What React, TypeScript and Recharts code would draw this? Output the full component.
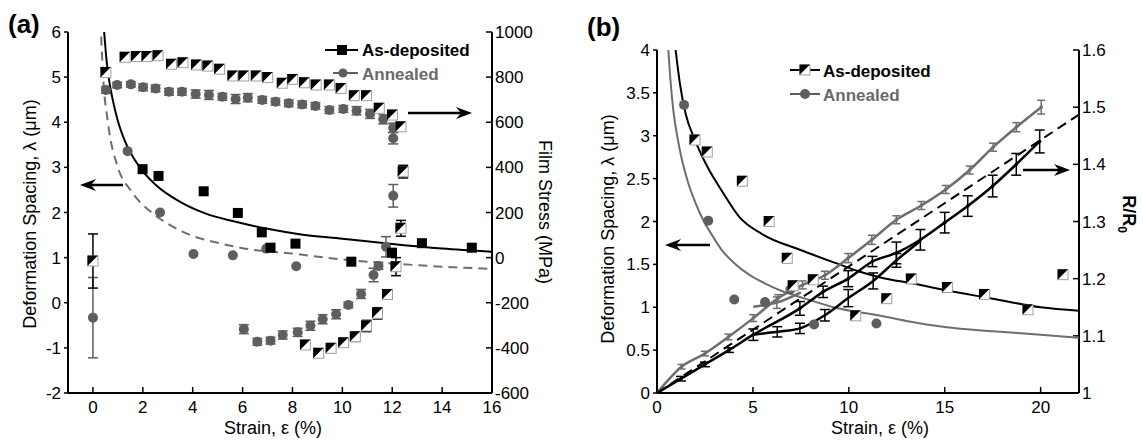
import React from 'react';
import { ComposedChart, Scatter, XAxis, YAxis, ErrorBar } from 'recharts';

const FONT = '"Liberation Sans", Arial, Helvetica, sans-serif';
const GRAY = '#5e5e5e';
const LIGHT = '#6e6e6e';

// ---- panel (a): strain vs deformation spacing (left) and film stress (right)
const aStrainTicks = [0, 2, 4, 6, 8, 10, 12, 14, 16];
const aSpacingTicks = [-2, -1, 0, 1, 2, 3, 4, 5, 6];
const aStressTicks = [-600, -400, -200, 0, 200, 400, 600, 800, 1000];

const aDepSpacing = [
  [1.99, 2.96], [2.63, 2.81], [4.44, 2.47], [5.81, 1.99], [6.77, 1.56], [7.12, 1.22],
  [8.12, 1.31], [10.36, 0.91], [11.99, 1.11], [13.19, 1.32], [15.19, 1.22],
];
const aAnnSpacing = [
  [1.39, 3.36], [2.69, 2.0], [4.03, 1.08], [5.61, 1.05], [6.95, 1.2], [8.15, 0.81],
];
const aDepFit = [
  [0.45, 6.0], [0.55, 5.35], [0.63, 5.0], [0.8, 4.48], [1.0, 4.03], [1.3, 3.56], [1.88, 3.0],
  [2.5, 2.62], [3.48, 2.24], [4.5, 1.98], [5.6, 1.81], [7.0, 1.64], [8.28, 1.52], [10, 1.42],
  [12, 1.3], [14, 1.2], [16, 1.13],
];
const aAnnFit = [
  [0.33, 5.9], [0.41, 5.0], [0.6, 4.0], [1.0, 3.0], [1.5, 2.5], [2.35, 2.0], [3.0, 1.75],
  [4.0, 1.48], [5.0, 1.33], [6.0, 1.21], [8.0, 1.09], [10, 0.96], [12, 0.87], [14, 0.8], [16, 0.75],
];
// [strain, stress, error]
const aDepStress = [
  [0, -15, 120], [0.52, 820, 8], [1.29, 888, 8], [1.75, 891, 8], [2.17, 891, 8], [2.61, 895, 8],
  [3.15, 857, 8], [3.61, 864, 8], [4.15, 854, 8], [4.61, 849, 8], [5.08, 835, 8], [5.61, 805, 8],
  [6.05, 805, 8], [6.55, 805, 8], [7.01, 798, 8], [7.59, 773, 8], [8.01, 790, 8], [8.48, 775, 8],
  [8.95, 765, 8], [9.48, 765, 8], [9.95, 750, 8], [10.48, 718, 8], [10.97, 718, 8], [11.48, 662, 10],
  [12.01, 632, 10], [12.35, 580, 12], [12.44, 381, 28], [12.35, 130, 35], [12.15, -40, 40],
  [11.81, -163, 20], [11.41, -247, 25], [10.97, -303, 25], [10.52, -351, 20], [10.05, -377, 15],
  [9.55, -402, 18], [9.05, -424, 15], [8.52, -387, 15],
];
const aAnnStress = [
  [0, -266, 178], [0.52, 743, 15], [0.97, 765, 12], [1.52, 768, 12], [2.01, 755, 15], [2.51, 750, 15],
  [3.05, 735, 15], [3.57, 735, 15], [4.12, 725, 18], [4.65, 721, 20], [5.19, 713, 15], [5.72, 703, 20],
  [6.21, 709, 18], [6.79, 699, 15], [7.32, 691, 15], [7.85, 684, 15], [8.39, 679, 15], [8.92, 672, 15],
  [9.48, 654, 15], [10.04, 659, 15], [10.57, 651, 18], [11.11, 637, 20], [11.64, 613, 20],
  [12.04, 576, 20], [12.04, 529, 25], [12.04, 274, 50], [11.75, 48, 45], [11.45, -37, 15],
  [11.25, -77, 30], [10.75, -161, 20], [10.24, -210, 12], [9.75, -251, 20], [9.21, -273, 20],
  [8.72, -302, 20], [8.21, -331, 18], [7.61, -343, 18], [7.12, -368, 15], [6.59, -373, 15],
  [6.05, -317, 20],
];

// ---- panel (b): strain vs deformation spacing (left) and R/R0 (right)
const bStrainTicks = [0, 5, 10, 15, 20];
const bSpacingTicks = [0, 0.5, 1, 1.5, 2, 2.5, 3, 3.5, 4];
const bRatioTicks = [1, 1.1, 1.2, 1.3, 1.4, 1.5, 1.6];

const bDepSpacing = [
  [1.98, 2.95], [2.62, 2.81], [4.45, 2.47], [5.85, 2.0], [6.79, 1.57], [7.1, 1.25], [8.15, 1.32],
  [10.36, 0.9], [11.98, 1.1], [13.26, 1.33], [15.14, 1.23], [17.07, 1.15], [19.34, 0.97], [21.17, 1.38],
];
const bAnnSpacing = [
  [1.41, 3.36], [2.67, 2.01], [4.03, 1.09], [5.63, 1.06], [6.96, 1.21], [8.19, 0.8], [11.44, 0.81],
  [15.14, 1.23],
];
const bDepFit = [
  [0.97, 4.0], [1.2, 3.6], [1.5, 3.25], [1.98, 2.95], [2.6, 2.65], [3.4, 2.35], [4.3, 2.05],
  [5.5, 1.85], [7.45, 1.67], [9.5, 1.5], [10.5, 1.42], [11.6, 1.35], [13.5, 1.27], [15, 1.2],
  [17.5, 1.1], [20, 1.0], [22, 0.96],
];
const bAnnFit = [
  [0.59, 4.0], [0.7, 3.65], [0.85, 3.3], [1.05, 3.0], [1.3, 2.72], [1.6, 2.47], [2.0, 2.22],
  [2.4, 2.02], [2.9, 1.83], [3.4, 1.66], [4.0, 1.52], [4.8, 1.38], [5.7, 1.27], [6.5, 1.19],
  [7.45, 1.12], [8.3, 1.06], [9.2, 1.0], [10.3, 0.95], [11.44, 0.91], [13, 0.84], [15, 0.77],
  [17.5, 0.72], [20, 0.68], [22, 0.645],
];
// [strain, R/R0, error]
const bAnnRatio = [
  [0, 1, 0], [1.28, 1.046, 0.004], [2.5, 1.069, 0.004], [3.72, 1.098, 0.005], [5.02, 1.131, 0.006],
  [6.32, 1.166, 0.006], [7.59, 1.189, 0.007], [8.75, 1.206, 0.007], [9.97, 1.236, 0.008],
  [11.2, 1.268, 0.008], [12.48, 1.303, 0.007], [13.78, 1.328, 0.007], [15.05, 1.356, 0.007],
  [16.3, 1.39, 0.007], [17.52, 1.43, 0.007], [18.73, 1.465, 0.008], [20.03, 1.5, 0.012],
];
const bAnnRatioShort = [[5.02, 1.151, 0], [6.25, 1.158, 0.01], [7.5, 1.176, 0]];
const bDepRatio = [
  [0, 1, 0], [1.25, 1.025, 0.004], [2.5, 1.05, 0.004], [3.75, 1.075, 0.004], [5.02, 1.102, 0.01],
  [7.45, 1.148, 0.012], [8.66, 1.177, 0.01], [9.97, 1.2, 0.014], [11.23, 1.23, 0.009],
  [12.48, 1.245, 0.019], [13.73, 1.268, 0.018], [15, 1.298, 0.018], [16.2, 1.327, 0.018],
  [17.5, 1.362, 0.019], [18.73, 1.4, 0.019], [19.95, 1.44, 0.02],
];
const bDepRatioLow = [
  [5.02, 1.102, 0], [6.27, 1.107, 0.009], [7.45, 1.113, 0.009], [8.75, 1.136, 0.01],
  [9.97, 1.166, 0.015], [11.27, 1.196, 0.014], [12.48, 1.232, 0.012], [13.73, 1.266, 0],
];
const bRatioGuide = [[0, 1], [22, 1.487]];

const toPts = (rows: number[][]) => rows.map(([x, y, e = 0]) => ({ x, y, e }));

const axisLn = { stroke: '#000', strokeWidth: 2 };
const tickLn = { stroke: '#000', strokeWidth: 1.5 };
const tickTxt = { fill: '#000', fontSize: 17, fontFamily: FONT };

const noDot = () => <g />;
const BlackSquare = (p: any) =>
  p.cx == null ? <g /> : <rect x={p.cx - 5} y={p.cy - 5} width={10} height={10} fill="#000" />;
const GrayDot = (p: any) => (p.cx == null ? <g /> : <circle cx={p.cx} cy={p.cy} r={5} fill={GRAY} />);
const TinyDot = (color: string) => (p: any) =>
  p.cx == null ? <g /> : <circle cx={p.cx} cy={p.cy} r={1.8} fill={color} />;
const HalfSquare = (p: any) => {
  if (p.cx == null) return <g />;
  const { cx, cy } = p;
  return (
    <g>
      <rect x={cx - 5} y={cy - 5} width={10} height={10} fill="#fff" stroke="#a0a0a0" strokeWidth={1} />
      <path d={`M${cx - 5.5},${cy - 5.5}H${cx + 5}L${cx - 5.5},${cy + 5}Z`} fill="#000" />
    </g>
  );
};

const Arrow = ({ x1, x2, y }: { x1: number; x2: number; y: number }) => {
  const d = x2 > x1 ? 1 : -1;
  return (
    <g>
      <line x1={x1} y1={y} x2={x2 - d * 8} y2={y} stroke="#000" strokeWidth={2.5} />
      <path d={`M${x2},${y}L${x2 - d * 16},${y - 6}L${x2 - d * 11},${y}L${x2 - d * 16},${y + 6}Z`} fill="#000" />
    </g>
  );
};

function PanelA() {
  return (
    <ComposedChart width={580} height={442} margin={{ top: 32, right: 28, bottom: 19, left: 23 }}>
      <XAxis xAxisId="b" type="number" dataKey="x" domain={[-1, 16]} ticks={aStrainTicks} interval={0}
        allowDataOverflow height={30} tickSize={-6} tickMargin={14} axisLine={axisLn} tickLine={tickLn} tick={tickTxt} />
      <XAxis xAxisId="t" orientation="top" type="number" dataKey="x" domain={[-1, 16]} ticks={aStrainTicks}
        interval={0} allowDataOverflow height={0} tickSize={-6} tick={false} axisLine={axisLn} tickLine={tickLn} />
      <YAxis yAxisId="l" type="number" dataKey="y" domain={[-2, 6]} ticks={aSpacingTicks} interval={0}
        allowDataOverflow width={45} tickSize={4} tickMargin={3} axisLine={axisLn} tickLine={tickLn} tick={tickTxt} />
      <YAxis yAxisId="r" orientation="right" type="number" dataKey="y" domain={[-600, 1000]} ticks={aStressTicks}
        interval={0} allowDataOverflow width={60} tickSize={-6} tickMargin={9} axisLine={axisLn} tickLine={tickLn} tick={tickTxt} />

      <Scatter xAxisId="b" yAxisId="l" data={toPts(aAnnFit)} line={{ stroke: LIGHT, strokeWidth: 2, strokeDasharray: '9 6' }}
        lineJointType="monotone" shape={noDot} isAnimationActive={false} legendType="none" />
      <Scatter xAxisId="b" yAxisId="l" data={toPts(aDepFit)} line={{ stroke: '#000', strokeWidth: 2 }}
        lineJointType="monotone" shape={noDot} isAnimationActive={false} legendType="none" />

      <Scatter xAxisId="b" yAxisId="r" data={toPts(aAnnStress)} shape={GrayDot} isAnimationActive={false}>
        <ErrorBar dataKey="e" direction="y" width={5} stroke={GRAY} strokeWidth={1.5} />
      </Scatter>
      <Scatter xAxisId="b" yAxisId="r" data={toPts(aDepStress)} shape={HalfSquare} isAnimationActive={false}>
        <ErrorBar dataKey="e" direction="y" width={5} stroke="#000" strokeWidth={1.5} />
      </Scatter>

      <Scatter xAxisId="b" yAxisId="l" data={toPts(aAnnSpacing)} shape={GrayDot} isAnimationActive={false} />
      <Scatter xAxisId="b" yAxisId="l" data={toPts(aDepSpacing)} shape={BlackSquare} isAnimationActive={false} />

      <text x={8} y={33} fontFamily={FONT} fontSize={26} fontWeight="bold">(a)</text>
      <text transform="translate(30,214) rotate(-90)" textAnchor="middle" dy="0.35em" fontFamily={FONT} fontSize={18}>
        Deformation Spacing, λ (μm)
      </text>
      <text transform="translate(545,212) rotate(90)" textAnchor="middle" dy="0.35em" fontFamily={FONT} fontSize={18}>
        Film Stress (MPa)
      </text>
      <text x={273} y={428} textAnchor="middle" dy="0.35em" fontFamily={FONT} fontSize={18}>Strain, ε (%)</text>

      <line x1={325} x2={358} y1={50} y2={50} stroke="#000" strokeWidth={2} />
      <rect x={337} y={45} width={10} height={10} fill="#000" />
      <text x={362} y={50} dy="0.35em" fontFamily={FONT} fontSize={17} fontWeight="bold">As-deposited</text>
      <line x1={333} x2={358} y1={73} y2={73} stroke={GRAY} strokeWidth={2} />
      <circle cx={343} cy={73} r={4.5} fill={GRAY} />
      <text x={362} y={74} dy="0.35em" fontFamily={FONT} fontSize={17} fontWeight="bold" fill="#6a6a6a">Annealed</text>

      <Arrow x1={123} x2={80} y={185} />
      <Arrow x1={408} x2={472} y={113} />
    </ComposedChart>
  );
}

function PanelB() {
  return (
    <ComposedChart width={563} height={442} margin={{ top: 50, right: 24, bottom: 19, left: 37 }}>
      <XAxis xAxisId="b" type="number" dataKey="x" domain={[0, 22]} ticks={bStrainTicks} interval={0}
        allowDataOverflow height={30} tickSize={-6} tickMargin={14} axisLine={axisLn} tickLine={tickLn} tick={tickTxt} />
      <XAxis xAxisId="t" orientation="top" type="number" dataKey="x" domain={[0, 22]} ticks={bStrainTicks}
        interval={0} allowDataOverflow height={0} tickSize={-6} tick={false} axisLine={axisLn} tickLine={tickLn} />
      <YAxis yAxisId="l" type="number" dataKey="y" domain={[0, 4]} ticks={bSpacingTicks} interval={0}
        allowDataOverflow width={40} tickSize={4} tickMargin={3} axisLine={axisLn} tickLine={tickLn} tick={tickTxt} />
      <YAxis yAxisId="r" orientation="right" type="number" dataKey="y" domain={[1, 1.6]} ticks={bRatioTicks}
        interval={0} allowDataOverflow width={40} tickSize={-6} tickMargin={9} axisLine={axisLn} tickLine={tickLn} tick={tickTxt} />

      <Scatter xAxisId="b" yAxisId="l" data={toPts(bAnnFit)} line={{ stroke: LIGHT, strokeWidth: 2 }}
        lineJointType="monotone" shape={noDot} isAnimationActive={false} legendType="none" />
      <Scatter xAxisId="b" yAxisId="l" data={toPts(bDepFit)} line={{ stroke: '#000', strokeWidth: 2 }}
        lineJointType="monotone" shape={noDot} isAnimationActive={false} legendType="none" />

      <Scatter xAxisId="b" yAxisId="r" data={toPts(bRatioGuide)} line={{ stroke: '#000', strokeWidth: 2, strokeDasharray: '10 6' }}
        shape={noDot} isAnimationActive={false} legendType="none" />
      <Scatter xAxisId="b" yAxisId="r" data={toPts(bAnnRatio)} line={{ stroke: LIGHT, strokeWidth: 2.5 }}
        lineJointType="monotone" shape={TinyDot(LIGHT)} isAnimationActive={false}>
        <ErrorBar dataKey="e" direction="y" width={4} stroke={LIGHT} strokeWidth={1.5} />
      </Scatter>
      <Scatter xAxisId="b" yAxisId="r" data={toPts(bAnnRatioShort)} line={{ stroke: LIGHT, strokeWidth: 2.5 }}
        lineJointType="monotone" shape={noDot} isAnimationActive={false}>
        <ErrorBar dataKey="e" direction="y" width={4} stroke={LIGHT} strokeWidth={1.5} />
      </Scatter>
      <Scatter xAxisId="b" yAxisId="r" data={toPts(bDepRatioLow)} line={{ stroke: '#000', strokeWidth: 2.5 }}
        lineJointType="monotone" shape={noDot} isAnimationActive={false}>
        <ErrorBar dataKey="e" direction="y" width={5} stroke="#000" strokeWidth={1.5} />
      </Scatter>
      <Scatter xAxisId="b" yAxisId="r" data={toPts(bDepRatio)} line={{ stroke: '#000', strokeWidth: 2.5 }}
        lineJointType="monotone" shape={TinyDot('#000')} isAnimationActive={false}>
        <ErrorBar dataKey="e" direction="y" width={5} stroke="#000" strokeWidth={1.5} />
      </Scatter>

      <Scatter xAxisId="b" yAxisId="l" data={toPts(bAnnSpacing)} shape={GrayDot} isAnimationActive={false} />
      <Scatter xAxisId="b" yAxisId="l" data={toPts(bDepSpacing)} shape={HalfSquare} isAnimationActive={false} />

      <text x={7} y={36} fontFamily={FONT} fontSize={26} fontWeight="bold">(b)</text>
      <text transform="translate(28,229) rotate(-90)" textAnchor="middle" dy="0.35em" fontFamily={FONT} fontSize={18}>
        Deformation Spacing, λ (μm)
      </text>
      <text transform="translate(549,214) rotate(90)" textAnchor="middle" dy="0.35em" fontFamily={FONT} fontSize={18} fontWeight="bold">
        R/R<tspan fontSize={12} dy="5">0</tspan>
      </text>
      <text x={300} y={428} textAnchor="middle" dy="0.35em" fontFamily={FONT} fontSize={18}>Strain, ε (%)</text>

      <line x1={210} x2={240} y1={70} y2={70} stroke="#000" strokeWidth={2} />
      <HalfSquare cx={225} cy={70} />
      <text x={243} y={71} dy="0.35em" fontFamily={FONT} fontSize={17} fontWeight="bold">As-deposited</text>
      <line x1={210} x2={240} y1={94} y2={94} stroke={GRAY} strokeWidth={2} />
      <circle cx={225} cy={94} r={5} fill={GRAY} />
      <text x={243} y={95} dy="0.35em" fontFamily={FONT} fontSize={17} fontWeight="bold" fill="#6a6a6a">Annealed</text>

      <Arrow x1={130} x2={85} y={245} />
      <Arrow x1={443} x2={490} y={170} />
    </ComposedChart>
  );
}

export default function App() {
  return (
    <div style={{ position: 'absolute', left: 0, top: 0, width: 1143, height: 442, background: '#fff', fontFamily: FONT }}>
      <div style={{ position: 'absolute', left: 0, top: 0 }}>
        <PanelA />
      </div>
      <div style={{ position: 'absolute', left: 580, top: 0 }}>
        <PanelB />
      </div>
    </div>
  );
}
